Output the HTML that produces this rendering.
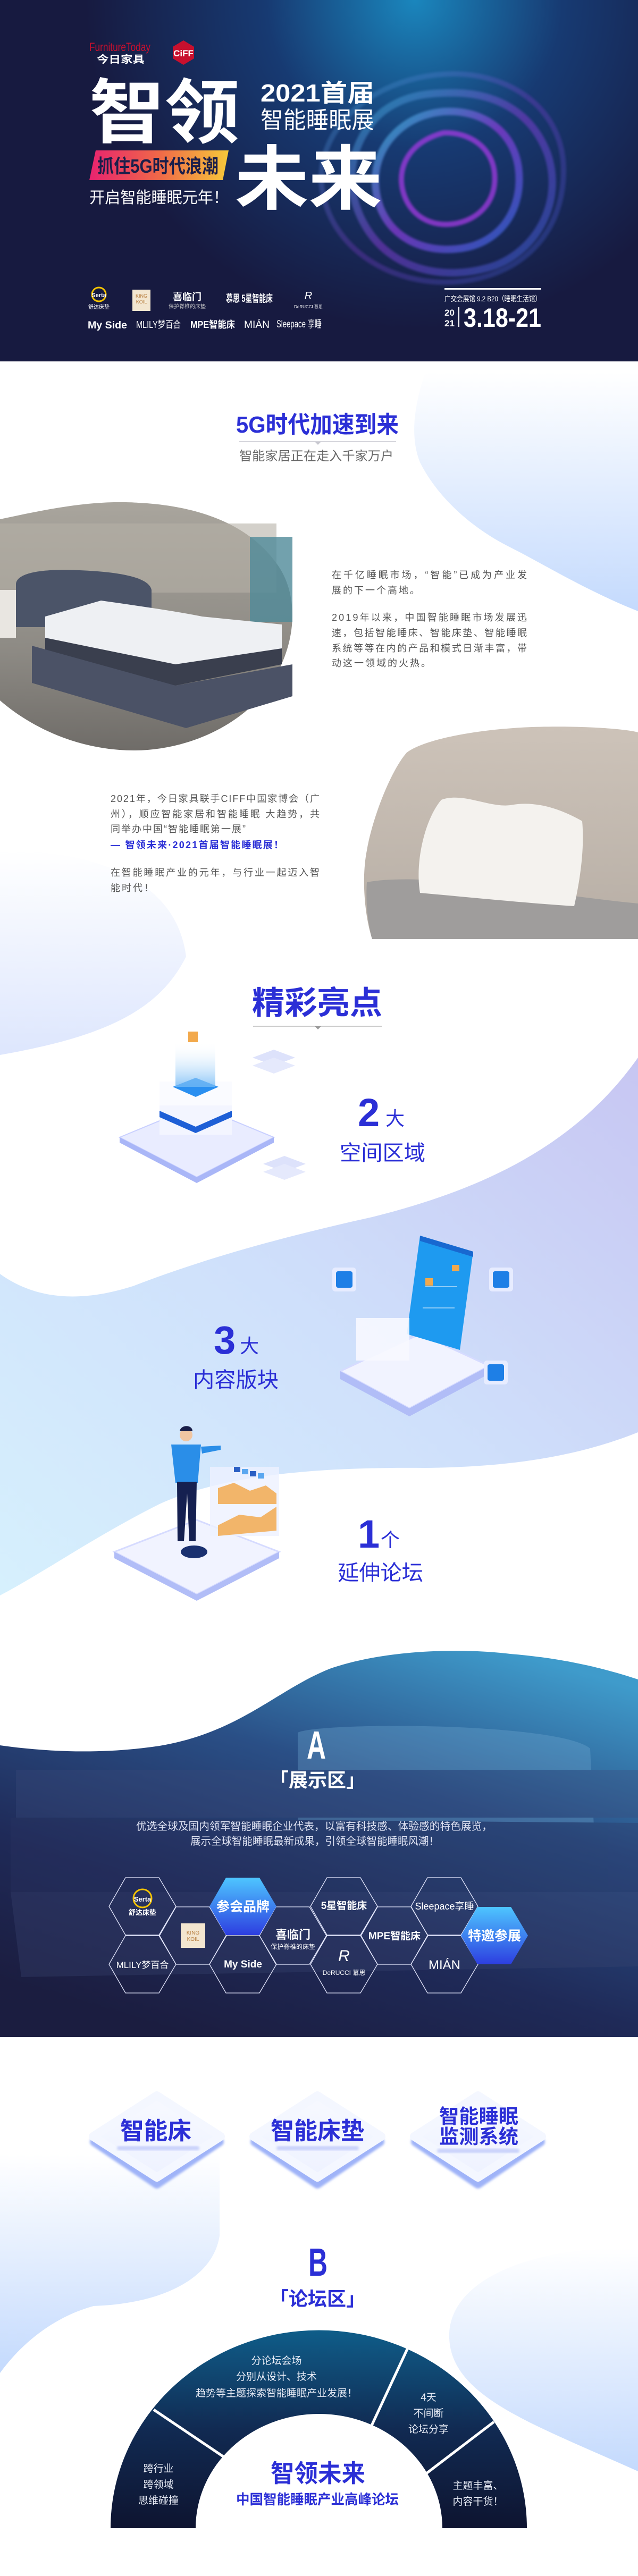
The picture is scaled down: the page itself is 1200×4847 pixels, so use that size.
<!DOCTYPE html>
<html><head><meta charset="utf-8">
<style>
html,body{margin:0;padding:0;background:#fff;}
svg{display:block;}
text{font-family:"Liberation Sans","Noto Sans CJK SC",sans-serif;}
.b{font-weight:bold;}
</style></head>
<body>
<svg width="1200" height="4847" viewBox="0 0 1200 4847" xmlns="http://www.w3.org/2000/svg">
<defs>
<radialGradient id="hg" cx="780" cy="0" r="620" gradientUnits="userSpaceOnUse">
<stop offset="0" stop-color="#1a86bd"/><stop offset="0.45" stop-color="#173a72"/><stop offset="1" stop-color="#171a40"/></radialGradient>
<linearGradient id="ring" x1="0" y1="0" x2="1" y2="1">
<stop offset="0" stop-color="#2fc0d8"/><stop offset="0.5" stop-color="#8b3ad8"/><stop offset="1" stop-color="#2e6fe0"/></linearGradient>
<linearGradient id="ban" x1="0" y1="0" x2="1" y2="0">
<stop offset="0" stop-color="#e8236f"/><stop offset="0.5" stop-color="#f06848"/><stop offset="1" stop-color="#f6c93a"/></linearGradient>
<linearGradient id="lb1" x1="0" y1="0" x2="0" y2="1">
<stop offset="0" stop-color="#ffffff"/><stop offset="1" stop-color="#c4dafd"/></linearGradient>
<linearGradient id="lb2" x1="0" y1="0" x2="0" y2="1">
<stop offset="0" stop-color="#ffffff"/><stop offset="1" stop-color="#dde6fd"/></linearGradient>
<linearGradient id="band" x1="1" y1="0" x2="0" y2="1">
<stop offset="0" stop-color="#c7c6f2"/><stop offset="0.5" stop-color="#cfe0fb"/><stop offset="1" stop-color="#d6f0fd"/></linearGradient>
<linearGradient id="dark" x1="0.8" y1="0" x2="0.3" y2="1">
<stop offset="0" stop-color="#3f9bcb"/><stop offset="0.35" stop-color="#2a4f86"/><stop offset="0.7" stop-color="#1f2a58"/><stop offset="1" stop-color="#1b1d40"/></linearGradient>
<linearGradient id="hexf" x1="0" y1="0" x2="0" y2="1">
<stop offset="0" stop-color="#4ec6ff"/><stop offset="1" stop-color="#2d3ee0"/></linearGradient>
<linearGradient id="arc" x1="0" y1="0" x2="0" y2="1">
<stop offset="0" stop-color="#0f5d89"/><stop offset="0.5" stop-color="#112a52"/><stop offset="1" stop-color="#0e1430"/></linearGradient>
<linearGradient id="tile" x1="0" y1="0" x2="0" y2="1">
<stop offset="0" stop-color="#f7f9ff"/><stop offset="1" stop-color="#eef2ff"/></linearGradient>
<linearGradient id="bedimg" x1="0" y1="0" x2="0" y2="1">
<stop offset="0" stop-color="#a9a59d"/><stop offset="0.6" stop-color="#8d8a84"/><stop offset="1" stop-color="#6f6c68"/></linearGradient>
<linearGradient id="pil" x1="0" y1="0" x2="0" y2="1">
<stop offset="0" stop-color="#cdc3b9"/><stop offset="1" stop-color="#b7aea5"/></linearGradient>
<linearGradient id="holo" x1="0" y1="0" x2="0" y2="1">
<stop offset="0" stop-color="#ffffff" stop-opacity="0"/><stop offset="1" stop-color="#6fb8f5"/></linearGradient>
<filter id="blur2"><feGaussianBlur stdDeviation="2"/></filter>
<filter id="blur6"><feGaussianBlur stdDeviation="6"/></filter>
</defs>

<!-- HERO -->
<rect x="0" y="0" width="1200" height="680" fill="url(#hg)"/>
<g fill="none" stroke="url(#ring)" filter="url(#blur2)" opacity="0.9">
<path d="M834,175 C930,170 1000,210 1030,290 C1060,380 1010,470 930,500 C840,530 740,510 690,430 C640,350 660,260 720,210 C760,180 800,176 834,175Z" stroke-width="14" opacity="0.55"/>
<path d="M830,140 C950,130 1060,200 1060,320 C1060,440 980,520 860,530 C740,540 620,470 605,350 C595,240 700,150 830,140Z" stroke-width="10" opacity="0.35"/>
<path d="M834,210 C905,205 965,245 975,315 C985,390 945,450 880,465 C810,480 740,455 715,390 C690,320 720,260 770,230 C790,218 812,212 834,210Z" stroke-width="14" opacity="0.8"/>
<path d="M834,250 C880,248 925,275 930,325 C935,375 905,410 860,420 C810,430 770,405 758,360 C745,310 775,265 834,250Z" stroke-width="10" stroke="#a03be0" opacity="0.85"/>
</g>
<text x="168" y="96" font-family="Liberation Serif" font-size="22" fill="#c8102e" textLength="115" lengthAdjust="spacingAndGlyphs">FurnitureToday</text>
<text x="182" y="118" font-size="19" fill="#fff" textLength="90" class="b" lengthAdjust="spacingAndGlyphs">今日家具</text>
<polygon points="345,76 365,88 365,110 345,122 325,110 325,88" fill="#c8102e"/>
<text x="345" y="106" font-size="17" fill="#fff" text-anchor="middle" class="b">CiFF</text>
<text x="168" y="258" font-size="132" fill="#fff" class="b" textLength="283" lengthAdjust="spacingAndGlyphs">智领</text>
<text x="490" y="191" font-size="46" fill="#fff" class="b" textLength="214" lengthAdjust="spacingAndGlyphs">2021首届</text>
<text x="490" y="241" font-size="44" fill="#fff" textLength="214" lengthAdjust="spacingAndGlyphs">智能睡眠展</text>
<polygon points="180,283 430,283 419,339 168,339" fill="url(#ban)"/>
<text x="183" y="325" font-size="36" fill="#1b1e4a" class="b" textLength="228" lengthAdjust="spacingAndGlyphs">抓住5G时代浪潮</text>
<text x="168" y="382" font-size="30" fill="#fff" textLength="262" lengthAdjust="spacingAndGlyphs">开启智能睡眠元年！</text>
<text x="442" y="383" font-size="132" fill="#fff" class="b" textLength="277" lengthAdjust="spacingAndGlyphs">未来</text>
<g fill="#fff">
<circle cx="186" cy="554" r="13" fill="none" stroke="#f5c400" stroke-width="3"/>
<text x="186" y="559" font-size="11" text-anchor="middle" class="b">Serta</text>
<text x="186" y="581" font-size="10" text-anchor="middle">舒达床垫</text>
<rect x="249" y="545" width="34" height="40" fill="#f3e6d0"/>
<text x="266" y="560" font-size="9" fill="#b57a3a" text-anchor="middle" font-family="Liberation Serif">KING</text>
<text x="266" y="571" font-size="9" fill="#b57a3a" text-anchor="middle" font-family="Liberation Serif">KOIL</text>
<text x="352" y="565" font-size="18" text-anchor="middle" class="b">喜临门</text>
<text x="352" y="580" font-size="10" text-anchor="middle" fill="#ccc">保护脊椎的床垫</text>
<text x="425" y="568" font-size="19" class="b" textLength="88" lengthAdjust="spacingAndGlyphs">慕思 5星智能床</text>
<text x="580" y="563" font-size="20" text-anchor="middle" font-family="Liberation Serif" font-style="italic">R</text>
<text x="580" y="580" font-size="8" text-anchor="middle" font-family="Liberation Serif">DeRUCCI 慕思</text>
<text x="165" y="618" font-size="19" class="b" textLength="74" lengthAdjust="spacingAndGlyphs">My Side</text>
<text x="256" y="617" font-size="18" textLength="84" lengthAdjust="spacingAndGlyphs">MLILY梦百合</text>
<text x="358" y="617" font-size="18" class="b" textLength="84" lengthAdjust="spacingAndGlyphs">MPE智能床</text>
<text x="459" y="617" font-size="19" textLength="48" lengthAdjust="spacingAndGlyphs">MIÁN</text>
<text x="520" y="616" font-size="19" textLength="85" lengthAdjust="spacingAndGlyphs">Sleepace 享睡</text>
</g>
<rect x="836" y="542" width="182" height="3" fill="#fff"/>
<text x="836" y="567" font-size="14" fill="#fff" textLength="182" lengthAdjust="spacingAndGlyphs">广交会展馆 9.2 B20（睡眠生活馆）</text>
<text x="836" y="594" font-size="17" fill="#fff" class="b">20</text>
<text x="836" y="614" font-size="17" fill="#fff" class="b">21</text>
<rect x="862" y="578" width="2" height="37" fill="#fff"/>
<text x="872" y="615" font-size="50" fill="#fff" class="b" textLength="146" lengthAdjust="spacingAndGlyphs">3.18-21</text>

<!-- SECTION 2 backgrounds -->
<path d="M1200,700 L1200,1150 C1100,1110 1020,1060 960,1030 C880,990 820,930 790,870 C770,820 780,760 800,700 Z" fill="url(#lb1)"/>
<path d="M0,1600 C150,1600 330,1640 350,1800 C300,1900 200,1950 0,1985 Z" fill="url(#lb2)"/>
<!-- bed image blob -->
<path d="M0,977 C80,960 170,940 260,946 C380,952 470,990 520,1060 C565,1120 560,1220 500,1300 C440,1375 340,1412 252,1412 C150,1412 60,1370 0,1318 Z" fill="url(#bedimg)"/>
<g>
<rect x="0" y="985" width="520" height="130" fill="#b5b0a7" opacity="0.6"/>
<rect x="470" y="1010" width="80" height="160" fill="#4f8a98" opacity="0.8"/>
<path d="M30,1100 C30,1075 90,1070 150,1073 C220,1076 280,1085 285,1110 L285,1180 L30,1180Z" fill="#4b5468"/>
<path d="M85,1160 L190,1130 C260,1140 330,1150 380,1160 L530,1175 L530,1230 L330,1260 L85,1210 Z" fill="#eef0f3"/>
<path d="M85,1200 L330,1250 L530,1220 L530,1250 L330,1290 L85,1240Z" fill="#3a3f4e"/>
<path d="M60,1215 L330,1290 L550,1250 L550,1310 L350,1370 L60,1285Z" fill="#4b5266"/>
<rect x="0" y="1110" width="30" height="90" fill="#e9e6e1"/>
</g>
<!-- pillow blob -->
<path d="M765,1416 C800,1390 900,1372 1000,1368 C1100,1365 1180,1372 1200,1378 L1200,1767 L700,1767 C685,1720 680,1650 690,1600 C700,1540 735,1450 765,1416Z" fill="url(#pil)"/>
<path d="M690,1660 C800,1640 1000,1680 1200,1700 L1200,1767 L700,1767 C690,1730 688,1690 690,1660Z" fill="#9f9d9c"/>
<path d="M830,1505 C870,1490 920,1520 960,1515 C1010,1505 1060,1525 1095,1545 C1100,1600 1090,1660 1080,1705 C1000,1700 900,1690 790,1680 C780,1620 800,1540 830,1505Z" fill="#f4f2ee"/>

<text x="444" y="814" font-size="44" fill="#2b2fd6" class="b" textLength="306" lengthAdjust="spacingAndGlyphs">5G时代加速到来</text>
<line x1="450" y1="831" x2="745" y2="831" stroke="#c8c8d0" stroke-width="1.5"/>
<polygon points="592,831 604,831 598,837" fill="#c8c8d0"/>
<text x="450" y="866" font-size="24" fill="#666" textLength="290" lengthAdjust="spacingAndGlyphs">智能家居正在走入千家万户</text>
<g font-size="18" fill="#555">
<text x="624" y="1088" textLength="367" lengthAdjust="spacing">在千亿睡眠市场，“智能”已成为产业发</text>
<text x="624" y="1117" letter-spacing="3">展的下一个高地。</text>
<text x="624" y="1168" textLength="367" lengthAdjust="spacing">2019年以来，中国智能睡眠市场发展迅</text>
<text x="624" y="1197" textLength="367" lengthAdjust="spacing">速，包括智能睡床、智能床垫、智能睡眠</text>
<text x="624" y="1226" textLength="367" lengthAdjust="spacing">系统等等在内的产品和模式日渐丰富，带</text>
<text x="624" y="1254" letter-spacing="3">动这一领域的火热。</text>
<text x="208" y="1509" textLength="393" lengthAdjust="spacing">2021年，今日家具联手CIFF中国家博会（广</text>
<text x="208" y="1538" textLength="393" lengthAdjust="spacing">州），顺应智能家居和智能睡眠  大趋势，共</text>
<text x="208" y="1566" letter-spacing="2">同举办中国“智能睡眠第一展”</text>
<text x="208" y="1596" fill="#2b2fd6" class="b" textLength="325" lengthAdjust="spacing">— 智领未来·2021首届智能睡眠展！</text>
<text x="208" y="1648" textLength="393" lengthAdjust="spacing">在智能睡眠产业的元年，与行业一起迈入智</text>
<text x="208" y="1677" letter-spacing="3">能时代！</text>
</g>

<!-- SECTION 3 -->
<path d="M0,2397 C60,2440 140,2455 250,2420 C380,2370 520,2330 700,2290 C900,2240 1080,2160 1200,1990 L1200,2695 C1100,2735 980,2760 800,2762 C600,2760 420,2775 300,2830 C180,2890 80,2960 0,3002 Z" fill="url(#band)"/>
<text x="474" y="1908" font-size="60" fill="#2b2fd6" class="b" textLength="245" lengthAdjust="spacingAndGlyphs">精彩亮点</text>
<line x1="476" y1="1931" x2="718" y2="1931" stroke="#bbb" stroke-width="1.5"/>
<polygon points="592,1931 604,1931 598,1937" fill="#999"/>

<!-- illus 1 -->
<g>
<path d="M225,2140 L370,2080 L515,2140 L370,2215 Z" fill="#e9ecff" stroke="#c9d0ff" stroke-width="2"/>
<path d="M225,2140 L370,2215 L515,2140 L515,2150 L370,2226 L225,2150Z" fill="#a9b6f7"/>
<rect x="300" y="2080" width="136" height="55" fill="#f3f5ff"/>
<path d="M300,2090 L368,2120 L436,2090 L436,2102 L368,2132 L300,2102Z" fill="#1e5fd6"/>
<rect x="300" y="2035" width="136" height="45" fill="#fafbff"/>
<path d="M325,2045 L368,2028 L411,2045 L368,2064Z" fill="#2a8ff0"/>
<rect x="330" y="1960" width="75" height="85" fill="url(#holo)" opacity="0.8"/>
<rect x="354" y="1941" width="18" height="20" fill="#f2a94c"/>
<path d="M475,1990 L515,1975 L555,1990 L515,2005Z" fill="#dde2fb"/>
<path d="M475,2005 L515,1990 L555,2005 L515,2020Z" fill="#e5e9fc"/>
<path d="M495,2190 L535,2175 L575,2190 L535,2205Z" fill="#dde2fb"/>
<path d="M495,2205 L535,2190 L575,2205 L535,2220Z" fill="#e5e9fc"/>
</g>
<text x="673" y="2119" font-size="74" fill="#2b2fd6" class="b">2</text>
<text x="725" y="2117" font-size="36" fill="#2b2fd6">大</text>
<text x="639" y="2183" font-size="40" fill="#2b2fd6" textLength="161" lengthAdjust="spacingAndGlyphs">空间区域</text>

<!-- illus 2 -->
<g>
<path d="M640,2580 L790,2510 L920,2570 L770,2650 Z" fill="#f1f3ff" stroke="#d6dbff" stroke-width="3"/>
<path d="M640,2580 L770,2650 L920,2570 L920,2585 L770,2665 L640,2595Z" fill="#b1bdf7"/>
<path d="M790,2325 L890,2355 L865,2540 L765,2510 Z" fill="#1e9af0"/>
<path d="M790,2325 L890,2355 L890,2365 L790,2335Z" fill="#1868d0"/>
<g fill="#fff" opacity="0.5"><rect x="800" y="2420" width="60" height="2"/><rect x="795" y="2460" width="60" height="2"/></g>
<rect x="800" y="2405" width="14" height="14" fill="#f2a94c"/>
<rect x="850" y="2380" width="14" height="12" fill="#f2a94c"/>
<rect x="625" y="2385" width="45" height="45" rx="6" fill="#e7ecff"/>
<rect x="632" y="2392" width="31" height="31" rx="4" fill="#1e7fe6"/>
<rect x="920" y="2385" width="45" height="45" rx="6" fill="#e7ecff"/>
<rect x="927" y="2392" width="31" height="31" rx="4" fill="#1e7fe6"/>
<rect x="910" y="2560" width="45" height="45" rx="6" fill="#e7ecff"/>
<rect x="917" y="2567" width="31" height="31" rx="4" fill="#1e7fe6"/>
<rect x="670" y="2480" width="100" height="80" fill="#f7f8ff" opacity="0.9"/>
</g>
<text x="402" y="2547" font-size="74" fill="#2b2fd6" class="b">3</text>
<text x="451" y="2545" font-size="36" fill="#2b2fd6">大</text>
<text x="363" y="2610" font-size="40" fill="#2b2fd6" textLength="161" lengthAdjust="spacingAndGlyphs">内容版块</text>

<!-- illus 3 -->
<g>
<path d="M215,2920 L370,2860 L525,2920 L370,3000 Z" fill="#f1f3ff" stroke="#d6dbff" stroke-width="3"/>
<path d="M215,2920 L370,3000 L525,2920 L525,2932 L370,3012 L215,2932Z" fill="#b1bdf7"/>
<rect x="395" y="2760" width="130" height="130" fill="#eef1ff" opacity="0.8"/>
<path d="M410,2800 L440,2790 L470,2805 L500,2795 L520,2810 L520,2830 L410,2830Z" fill="#f2b56a"/>
<g fill="#2a5fc4"><rect x="440" y="2760" width="12" height="10"/><rect x="455" y="2764" width="12" height="10" fill="#5aa7f0"/><rect x="470" y="2768" width="12" height="10"/><rect x="485" y="2772" width="12" height="10" fill="#5aa7f0"/></g>
<path d="M410,2870 L450,2850 L490,2855 L520,2835 L520,2880 L410,2890Z" fill="#f2b56a"/>
<circle cx="350" cy="2700" r="12" fill="#f1c6a2"/>
<path d="M338,2693 C340,2680 362,2680 362,2693Z" fill="#1a1f4a"/>
<path d="M322,2718 L378,2718 L372,2790 L330,2790Z" fill="#2a8ee8"/>
<path d="M378,2722 L415,2720 L415,2728 L380,2735Z" fill="#2a8ee8"/>
<path d="M333,2788 L370,2788 L368,2900 L356,2900 L352,2810 L346,2900 L334,2900Z" fill="#152050"/>
<ellipse cx="365" cy="2920" rx="25" ry="12" fill="#1a3070"/>
</g>
<text x="673" y="2912" font-size="74" fill="#2b2fd6" class="b">1</text>
<text x="716" y="2910" font-size="36" fill="#2b2fd6">个</text>
<text x="635" y="2973" font-size="40" fill="#2b2fd6" textLength="161" lengthAdjust="spacingAndGlyphs">延伸论坛</text>

<!-- SECTION 4 dark -->
<path d="M0,3284 C100,3298 200,3300 300,3285 C450,3260 520,3180 620,3140 C720,3105 860,3100 960,3112 C1060,3120 1140,3140 1200,3160 L1200,3833 L0,3833 Z" fill="url(#dark)"/>
<g opacity="0.35">
<path d="M560,3260 C600,3240 1050,3240 1110,3290 L1120,3500 L560,3500Z" fill="#6fa8d0"/>
<path d="M30,3330 L1200,3330 L1200,3420 L30,3420Z" fill="#3a4a7a"/>
<path d="M20,3420 L1200,3430 L1200,3560 L20,3560Z" fill="#2a3560"/>
<path d="M20,3560 L1200,3560 L1200,3700 L40,3720Z" fill="#3a4470"/>
</g>
<text x="595" y="3309" font-size="74" fill="#fff" class="b" text-anchor="middle" textLength="36" lengthAdjust="spacingAndGlyphs">A</text>
<text x="597" y="3362" font-size="36" fill="#fff" class="b" text-anchor="middle">「展示区」</text>
<text x="591" y="3443" font-size="20" fill="#dfe3f3" text-anchor="middle" textLength="670" lengthAdjust="spacingAndGlyphs">优选全球及国内领军智能睡眠企业代表，以富有科技感、体验感的特色展览，</text>
<text x="592" y="3471" font-size="20" fill="#dfe3f3" text-anchor="middle" textLength="468" lengthAdjust="spacingAndGlyphs">展示全球智能睡眠最新成果，引领全球智能睡眠风潮！</text>
<g fill="none" stroke="#e6e9ff" stroke-width="1.3">
<polygon points="205,3587 236,3533 299,3533 331,3587 299,3641 236,3641"/>
<polygon points="205,3696 236,3642 299,3642 331,3696 299,3750 236,3750"/>
<polygon points="300,3642 331,3588 394,3588 426,3642 394,3696 331,3696"/>
<polygon points="394,3696 425,3642 488,3642 520,3696 488,3750 425,3750"/>
<polygon points="488,3642 519,3588 582,3588 614,3642 582,3696 519,3696"/>
<polygon points="584,3587 615,3533 678,3533 710,3587 678,3641 615,3641"/>
<polygon points="584,3696 615,3642 678,3642 710,3696 678,3750 615,3750"/>
<polygon points="679,3642 710,3588 773,3588 805,3642 773,3696 710,3696"/>
<polygon points="773,3587 804,3533 867,3533 899,3587 867,3641 804,3641"/>
<polygon points="773,3696 804,3642 867,3642 899,3696 867,3750 804,3750"/>
</g>
<polygon points="394,3587 425,3533 488,3533 520,3587 488,3641 425,3641" fill="url(#hexf)"/>
<polygon points="867,3642 898,3588 961,3588 993,3642 961,3696 898,3696" fill="url(#hexf)"/>
<text x="457" y="3596" font-size="25" fill="#fff" class="b" text-anchor="middle">参会品牌</text>
<text x="930" y="3651" font-size="25" fill="#fff" class="b" text-anchor="middle">特邀参展</text>
<g fill="#fff" text-anchor="middle">
<circle cx="268" cy="3572" r="17" fill="none" stroke="#f5c400" stroke-width="3"/>
<text x="268" y="3578" font-size="13" class="b">Serta</text>
<text x="268" y="3603" font-size="13" class="b">舒达床垫</text>
<text x="268" y="3703" font-size="17">MLILY梦百合</text>
<rect x="340" y="3619" width="46" height="46" fill="#f3e6d0"/>
<text x="363" y="3640" font-size="10" fill="#b57a3a" font-family="Liberation Serif">KING</text>
<text x="363" y="3652" font-size="10" fill="#b57a3a" font-family="Liberation Serif">KOIL</text>
<text x="457" y="3702" font-size="19" class="b">My Side</text>
<text x="551" y="3648" font-size="22" class="b">喜临门</text>
<text x="551" y="3667" font-size="12">保护脊椎的床垫</text>
<text x="647" y="3592" font-size="19" class="b">5星智能床</text>
<text x="647" y="3690" font-size="30" font-family="Liberation Serif" font-style="italic">R</text>
<text x="647" y="3716" font-size="12" font-family="Liberation Serif">DeRUCCI 慕思</text>
<text x="742" y="3649" font-size="19" class="b">MPE智能床</text>
<text x="836" y="3593" font-size="18">Sleepace享睡</text>
<text x="836" y="3705" font-size="24">MIÁN</text>
</g>

<!-- SECTION 5 -->
<path d="M0,4053 L413,4053 L413,4207 C400,4290 300,4335 176,4339 C100,4360 40,4410 0,4465 Z" fill="url(#lb1)"/>
<path d="M1200,4230 C1000,4225 840,4290 845,4400 C850,4510 1000,4560 1200,4650 Z" fill="url(#lb1)"/>
<g stroke-linejoin="round">
<g>
<path d="M295,3951 L413,4030 L295,4110 L177,4030 Z" fill="#9fb3f8" stroke="#9fb3f8" stroke-width="16" filter="url(#blur2)"/>
<path d="M295,3943 L415,4020 L295,4097 L175,4020 Z" fill="url(#tile)" stroke="#f4f7ff" stroke-width="16"/>
<rect x="220" y="4038" width="155" height="8" rx="4" fill="#c9d2fb" filter="url(#blur2)"/>
</g>
<g>
<path d="M597,3951 L715,4030 L597,4110 L479,4030 Z" fill="#9fb3f8" stroke="#9fb3f8" stroke-width="16" filter="url(#blur2)"/>
<path d="M597,3943 L717,4020 L597,4097 L477,4020 Z" fill="url(#tile)" stroke="#f4f7ff" stroke-width="16"/>
<rect x="520" y="4038" width="155" height="8" rx="4" fill="#c9d2fb" filter="url(#blur2)"/>
</g>
<g>
<path d="M899,3951 L1017,4030 L899,4110 L781,4030 Z" fill="#9fb3f8" stroke="#9fb3f8" stroke-width="16" filter="url(#blur2)"/>
<path d="M899,3943 L1019,4020 L899,4097 L779,4020 Z" fill="url(#tile)" stroke="#f4f7ff" stroke-width="16"/>
<rect x="822" y="4043" width="155" height="8" rx="4" fill="#c9d2fb" filter="url(#blur2)"/>
</g>
</g>
<text x="226" y="4025" font-size="45" fill="#2b2fd6" class="b" textLength="134" lengthAdjust="spacingAndGlyphs">智能床</text>
<text x="509" y="4025" font-size="45" fill="#2b2fd6" class="b" textLength="176" lengthAdjust="spacingAndGlyphs">智能床垫</text>
<text x="826" y="3995" font-size="37" fill="#2b2fd6" class="b" textLength="149" lengthAdjust="spacingAndGlyphs">智能睡眠</text>
<text x="826" y="4033" font-size="37" fill="#2b2fd6" class="b" textLength="149" lengthAdjust="spacingAndGlyphs">监测系统</text>

<text x="598" y="4282" font-size="74" fill="#2b2fd6" class="b" text-anchor="middle" textLength="36" lengthAdjust="spacingAndGlyphs">B</text>
<text x="597" y="4338" font-size="36" fill="#2b2fd6" class="b" text-anchor="middle">「论坛区」</text>

<path d="M208,4757 A391,372 0 0 1 991,4757 L832,4757 A232,215 0 0 0 368,4757 Z" fill="url(#arc)"/>
<g stroke="#fff" stroke-width="5">
<line x1="289" y1="4534" x2="424" y2="4625"/>
<line x1="767" y1="4418" x2="698" y2="4566"/>
<line x1="929" y1="4557" x2="798" y2="4657"/>
</g>
<g fill="#e8ecf6" font-size="19" text-anchor="middle">
<text x="520" y="4448">分论坛会场</text>
<text x="520" y="4478">分别从设计、技术</text>
<text x="520" y="4509">趋势等主题探索智能睡眠产业发展！</text>
<text x="806" y="4517">4天</text>
<text x="806" y="4547">不间断</text>
<text x="806" y="4577">论坛分享</text>
<text x="298" y="4651">跨行业</text>
<text x="298" y="4681">跨领域</text>
<text x="298" y="4711">思维碰撞</text>
<text x="899" y="4683">主题丰富、</text>
<text x="899" y="4713">内容干货！</text>
</g>
<text x="598" y="4670" font-size="46" fill="#2b2fd6" class="b" text-anchor="middle" textLength="178" lengthAdjust="spacingAndGlyphs">智领未来</text>
<text x="597" y="4712" font-size="26" fill="#2b2fd6" class="b" text-anchor="middle" textLength="306" lengthAdjust="spacingAndGlyphs">中国智能睡眠产业高峰论坛</text>
</svg>
</body></html>
